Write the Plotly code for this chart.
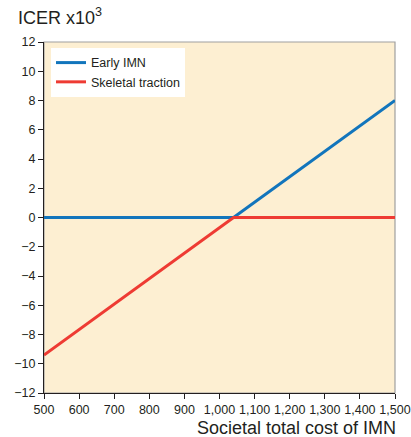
import plotly.graph_objects as go

cost = [500, 1040, 1500]
early_imn = [0, 0, 8]
skeletal = [-9.4, 0, 0]
x_ticks = [500, 600, 700, 800, 900, 1000, 1100, 1200, 1300, 1400, 1500]
y_ticks = [-12, -10, -8, -6, -4, -2, 0, 2, 4, 6, 8, 10, 12]

fig = go.Figure()
fig.add_trace(go.Scatter(x=cost, y=early_imn, mode="lines", name="Early IMN",
                         line=dict(color="#1275BC", width=3)))
fig.add_trace(go.Scatter(x=cost, y=skeletal, mode="lines", name="Skeletal traction",
                         line=dict(color="#EE3B33", width=3)))

# gray top/right border
fig.add_shape(type="rect", xref="paper", yref="paper", x0=0, y0=0, x1=1, y1=1,
              line=dict(color="#A0A0A0", width=1.2), layer="below")

fig.update_layout(
    width=411, height=437,
    margin=dict(l=44, r=16, t=42, b=44),
    paper_bgcolor="white", plot_bgcolor="#FDEFD2",
    font=dict(family="Liberation Sans, Arial, sans-serif", color="#231F20", size=12),
    showlegend=True,
    legend=dict(x=0.02, y=0.983, xanchor="left", yanchor="top",
                bgcolor="white", font=dict(size=12.5), tracegroupgap=0,
                itemwidth=30),
)
fig.update_xaxes(range=[500, 1500], tickvals=x_ticks, tickformat=",", automargin=False,
                 showgrid=False, zeroline=False, showline=True, linecolor="#231F20",
                 linewidth=1.2, ticks="outside", ticklen=5, tickcolor="#231F20",
                 tickfont=dict(size=12.5))
fig.update_yaxes(range=[-12, 12], tickvals=y_ticks, automargin=False,
                 showgrid=False, zeroline=False, showline=True, linecolor="#231F20",
                 linewidth=1.2, ticks="outside", ticklen=5, tickcolor="#231F20",
                 tickfont=dict(size=12.5))

fig.add_annotation(text="ICER x10<sup>3</sup>", xref="paper", yref="paper",
                   x=-0.08, y=1.0, yshift=12, xanchor="left", yanchor="bottom",
                   showarrow=False, font=dict(size=18))
fig.add_annotation(text="Societal total cost of IMN", xref="paper", yref="paper",
                   x=1.0, y=0, yshift=-23, xshift=3, xanchor="right", yanchor="top",
                   showarrow=False, font=dict(size=18))

fig.write_html("out.html", config={"displayModeBar": False},
               post_script="document.body.style.margin='0';document.body.style.overflow='hidden';")
